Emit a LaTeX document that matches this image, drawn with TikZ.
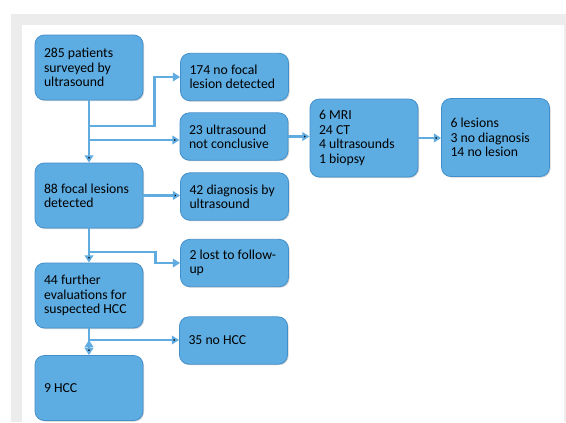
\documentclass[tikz,border=0pt]{standalone}
\usepackage{fontspec}
\setmainfont{Carlito}
\usepackage{xcolor}
\usepackage{tikz}
\usetikzlibrary{
	arrows.meta,shadows
}

\definecolor{boxblue}{RGB}{94,173,226}
\definecolor{edgeblue}{RGB}{66,143,203}
\definecolor{linkblue}{RGB}{96,172,224}
\definecolor{framegrey}{RGB}{236,236,236}

\tikzset{
	box/.style={draw=edgeblue, line width=0.6pt, fill=boxblue, rounded corners=7pt,
		minimum width=81pt, text width=67.5pt, inner xsep=6.75pt, align=flush left,
		font=\fontsize{10.3}{10.8}\selectfont,
		drop shadow={shadow xshift=0.8pt, shadow yshift=-0.8pt, opacity=0.35}},
	tall/.style={box, minimum height=48.75pt},
	short/.style={box, minimum height=35.5pt},
	big/.style={box, minimum height=58.5pt},
	link/.style={draw=linkblue, line width=2.2pt, -{Triangle[width=6.5pt,length=5.5pt]}}
}

\begin{document}
\begin{tikzpicture}[x=0.75pt,y=-0.75pt]
			\useasboundingbox (0,0) rectangle (566,422);
			\fill[white] (0,0) rectangle (566,422);
			\fill[framegrey] (11,14) rectangle (566,422);
			\fill[white] (22,25) rectangle (564,422);
			%
			\node[tall] (A) at (89,67.5) {285 patients\\surveyed by\\ultrasound};
			\node[short] (B) at (234.5,77) {174 no focal\\lesion detected};
			\node[short] (C) at (234,136.5) {23 ultrasound\\not conclusive};
			\node[big] (C') at (364,138) {6 MRI\\24 CT\\4 ultrasounds\\1 biopsy};
			\node[big] (C'') at (495.5,137.5) {6 lesions\\3 no diagnosis\\14 no lesion};
			\node[tall] (D) at (89,195.5) {88 focal lesions\\detected};
			\node[short] (E) at (234.5,196.5) {42 diagnosis by\\ultrasound};
			\node[short] (F) at (234.5,263) {2 lost to follow-\\up};
			\node[tall] (G) at (89,295.5) {44 further\\evaluations for\\suspected HCC};
			\node[short] (H) at (233.5,340.5) {35 no HCC};
			\node[tall] (I) at (89,388) {9 HCC};
			%
			\coordinate (a1) at (A.south |- 0,126);
			\coordinate (a2) at (A.south |- 0,140);
			\coordinate (a3) at (D.south |- 0,252);
			\coordinate (a4) at (G.south |- 0,340);
			%
			\path[link]
				(A) edge (D)
				(D) edge (G)
				(G) edge (I)
				(D.east) edge (D.east -| E.west)
				(C.east) edge (C.east -| C'.west)
				(C'.east) edge (C'.east -| C''.west)
				(a2) edge (a2 -| C.west)
				(a4) edge (a4 -| H.west);
			\draw[link] (a1) -| ([xshift=-19.5pt]B.west) -- (B.west);
			\draw[link] (a3) -| ([xshift=-18.75pt]F.west) -- (F.west);
		\end{tikzpicture}
\end{document}
